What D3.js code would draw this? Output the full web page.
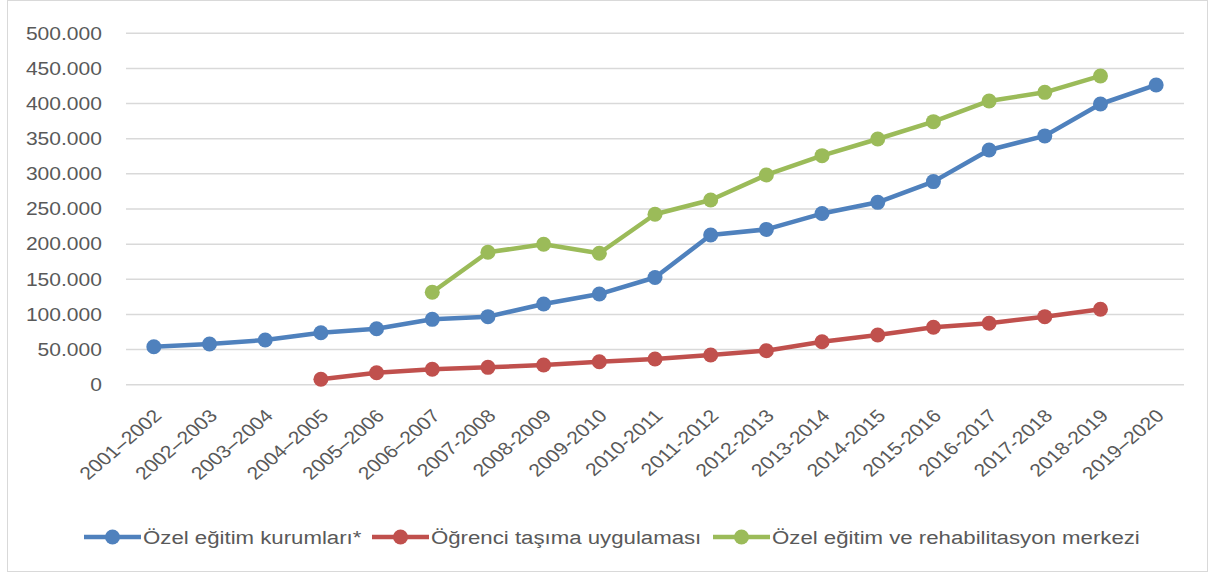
<!DOCTYPE html>
<html lang="tr">
<head>
<meta charset="UTF-8">
<title>Chart</title>
<style>
  body { margin: 0; background: #fff; }
  text { font-family: "Liberation Sans", Arial, sans-serif; fill: #595959; }
</style>
</head>
<body>
<svg id="chart" width="1213" height="577"></svg>
<script src="https://d3js.org/d3.v7.min.js"></script>
<script>
// kategoriler (yıllar)
var years = ["2001–2002","2002–2003","2003–2004","2004–2005","2005–2006","2006–2007",
  "2007-2008","2008-2009","2009-2010","2010-2011","2011-2012","2012-2013","2013-2014",
  "2014-2015","2015-2016","2016-2017","2017-2018","2018-2019","2019–2020"];

// seriler
var kurumlar = [54000,58000,63600,74000,79700,93000,96800,114800,129000,152500,
  213000,221000,243500,259500,289000,334000,354000,399400,426500];
var tasima = [null,null,null,7700,17000,21900,24700,28000,32700,36600,
  42300,48400,61200,70700,81700,87400,96800,107300,null];
var rehab = [null,null,null,null,null,131500,188400,199800,187000,242500,
  262800,298400,325900,349600,374300,403700,416000,439300,null];

var yTicks = [0,50000,100000,150000,200000,250000,300000,350000,400000,450000,500000];

var series = [
  { name: "Özel eğitim kurumları*", values: kurumlar, color: "#4F81BD" },
  { name: "Öğrenci taşıma uygulaması", values: tasima, color: "#C0504D" },
  { name: "Özel eğitim ve rehabilitasyon merkezi", values: rehab, color: "#9BBB59" }
];

// yazılar görüntüde yatay olarak biraz geniş
var sx = 1.17;

var svg = d3.select("#chart");

// çerçeve
svg.append("rect")
  .attr("x", 7.5).attr("y", 0.5)
  .attr("width", 1200).attr("height", 571)
  .attr("fill", "none").attr("stroke", "#d9d9d9");

var x = d3.scaleBand().domain(years).range([126, 1184]);
var y = d3.scaleLinear().domain([0, 500000]).range([384.7, 33.3]);

// ızgara çizgileri
svg.append("g").selectAll("line")
  .data(yTicks).enter().append("line")
  .attr("x1", 126).attr("x2", 1184)
  .attr("y1", function(d) { return y(d); })
  .attr("y2", function(d) { return y(d); })
  .attr("stroke", "#d9d9d9").attr("stroke-width", 1.5);

// y ekseni etiketleri
var fmt = function(d) { return d === 0 ? "0" : d3.format(",")(d).replace(/,/g, "."); };
svg.append("g").selectAll("text")
  .data(yTicks).enter().append("text")
  .attr("transform", function(d) { return "translate(102," + y(d) + ") scale(" + sx + ",1)"; })
  .attr("dy", "0.35em")
  .attr("text-anchor", "end")
  .attr("font-size", 18)
  .text(fmt);

// x ekseni etiketleri
svg.append("g").selectAll("text")
  .data(years).enter().append("text")
  .attr("transform", function(d) {
    var cx = x(d) + x.bandwidth() / 2 + 9;
    return "translate(" + cx + ",417) scale(" + sx + ",1) rotate(-45)";
  })
  .attr("text-anchor", "end")
  .attr("font-size", 18)
  .text(function(d) { return d; });

var line = d3.line()
  .defined(function(d) { return d != null; })
  .x(function(d, i) { return x(years[i]) + x.bandwidth() / 2; })
  .y(function(d) { return y(d); });

series.forEach(function(s) {
  svg.append("path")
    .datum(s.values)
    .attr("d", line)
    .attr("fill", "none")
    .attr("stroke", s.color)
    .attr("stroke-width", 4.5)
    .attr("stroke-linejoin", "round");

  svg.append("g").selectAll("circle")
    .data(s.values.map(function(v, i) { return { v: v, i: i }; })
      .filter(function(d) { return d.v != null; }))
    .enter().append("circle")
    .attr("cx", function(d) { return x(years[d.i]) + x.bandwidth() / 2; })
    .attr("cy", function(d) { return y(d.v); })
    .attr("r", 7.5)
    .attr("fill", s.color);
});

// lejant
var legendX = [84, 372, 713];
var legend = svg.append("g");
series.forEach(function(s, i) {
  var g = legend.append("g").attr("transform", "translate(" + legendX[i] + ",537)");
  g.append("line").attr("x1", 0).attr("x2", 57).attr("y1", 0).attr("y2", 0)
    .attr("stroke", s.color).attr("stroke-width", 4.5);
  g.append("circle").attr("cx", 28.5).attr("cy", 0).attr("r", 7.5).attr("fill", s.color);
  g.append("text")
    .attr("transform", "translate(59,0) scale(" + sx + ",1)")
    .attr("dy", "0.35em")
    .attr("font-size", 19).text(s.name);
});
</script>
</body>
</html>
